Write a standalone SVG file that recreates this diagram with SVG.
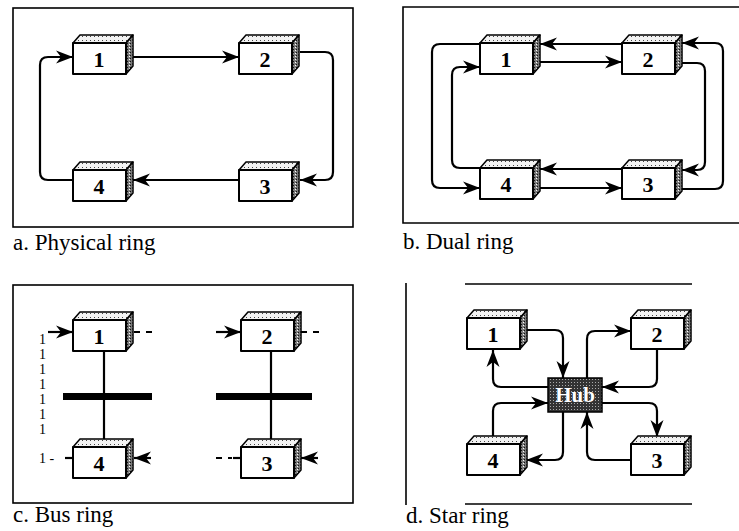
<svg xmlns="http://www.w3.org/2000/svg" xmlns:xlink="http://www.w3.org/1999/xlink" width="739" height="531" viewBox="0 0 739 531">
<style>
.frame{fill:none;stroke:#000;stroke-width:1.6}
.front{fill:#fff;stroke:#000;stroke-width:2;stroke-linejoin:round}
.top{fill:url(#lightDots);stroke:#000;stroke-width:1.5;stroke-linejoin:round}
.side{fill:url(#darkDots);stroke:#000;stroke-width:1.5;stroke-linejoin:round}
.num{font-family:"Liberation Serif",serif;font-weight:bold;font-size:22px;text-anchor:middle;fill:#000}
.cap{font-family:"Liberation Serif",serif;font-size:23px;fill:#000}
.ln{fill:none;stroke:#000;stroke-width:2.2;stroke-linejoin:round}
.ar{marker-end:url(#arrow)}
.dash{fill:none;stroke:#000;stroke-width:2.2;stroke-dasharray:6 6}
.tick{font-family:"Liberation Serif",serif;font-size:14px;fill:#000}
.bar{fill:#000}
.hubtxt{font-family:"Liberation Serif",serif;font-weight:bold;font-size:21px;text-anchor:middle;fill:#fff}
</style>
<defs>
<pattern id="lightDots" width="4" height="4" patternUnits="userSpaceOnUse">
<rect width="4" height="4" fill="#f2f2f2"/>
<rect x="1" y="1" width="1" height="1" fill="#444"/>
</pattern>
<pattern id="darkDots" width="3" height="3" patternUnits="userSpaceOnUse">
<rect width="3" height="3" fill="#7a7a7a"/>
<rect x="0" y="0" width="1" height="1" fill="#111"/>
<rect x="2" y="1" width="1" height="1" fill="#fff"/>
</pattern>
<pattern id="hubDots" width="3" height="3" patternUnits="userSpaceOnUse">
<rect width="3" height="3" fill="#333"/>
<rect x="1" y="1" width="1" height="1" fill="#aaa"/>
</pattern>
<marker id="arrow" markerUnits="userSpaceOnUse" markerWidth="18" markerHeight="14" refX="17" refY="7" orient="auto">
<path d="M0,0.5 L17,7 L0,13.5 L5,7 z" fill="#000"/>
</marker>
<g id="box">
<polygon class="top" points="0,0 53,0 60,-8 7,-8"/>
<polygon class="side" points="53,0 60,-8 60,23 53,31"/>
<rect class="front" x="0" y="0" width="53" height="31"/>
</g>
</defs>

<!-- Panel a: Physical ring -->
<g id="panel-a">
<rect class="frame" x="13" y="8" width="340" height="219"/>
<text class="cap" x="13" y="250">a. Physical ring</text>
</g>
<g id="a-connectors">
<path class="ln ar" d="M133,57 H239"/>
<path class="ln ar" d="M300,52 H325 Q333,52 333,60 V172 Q333,180 325,180 H300"/>
<path class="ln ar" d="M239,180 H133"/>
<path class="ln ar" d="M73,180 H48 Q40,180 40,172 V65 Q40,57 48,57 H73"/>
</g>
<g id="a-node1"><use xlink:href="#box" x="73" y="43"/><text class="num" x="99" y="67">1</text></g>
<g id="a-node2"><use xlink:href="#box" x="239" y="43"/><text class="num" x="265" y="67">2</text></g>
<g id="a-node3"><use xlink:href="#box" x="239" y="170"/><text class="num" x="265" y="194">3</text></g>
<g id="a-node4"><use xlink:href="#box" x="73" y="170"/><text class="num" x="99" y="194">4</text></g>

<!-- Panel b: Dual ring -->
<g id="panel-b">
<path class="frame" d="M739,7 H403 V223 H739"/>
<text class="cap" x="403" y="249">b. Dual ring</text>
</g>
<g id="b-connectors">
<path class="ln ar" d="M622,44 H540"/>
<path class="ln ar" d="M540,62 H622"/>
<path class="ln ar" d="M480,44 H440 Q432,44 432,52 V180 Q432,188 440,188 H480"/>
<path class="ln ar" d="M480,168 H460 Q452,168 452,160 V75 Q452,67 460,67 H480"/>
<path class="ln ar" d="M622,169 H540"/>
<path class="ln ar" d="M540,188 H622"/>
<path class="ln ar" d="M682,63 H697 Q705,63 705,71 V162 Q705,170 697,170 H682"/>
<path class="ln ar" d="M682,189 H715 Q723,189 723,181 V51 Q723,43 715,43 H682"/>
</g>
<g id="b-node1"><use xlink:href="#box" x="480" y="43"/><text class="num" x="506" y="67">1</text></g>
<g id="b-node2"><use xlink:href="#box" x="622" y="43"/><text class="num" x="648" y="67">2</text></g>
<g id="b-node3"><use xlink:href="#box" x="622" y="168"/><text class="num" x="648" y="192">3</text></g>
<g id="b-node4"><use xlink:href="#box" x="480" y="168"/><text class="num" x="506" y="192">4</text></g>

<!-- Panel c: Bus ring -->
<g id="panel-c">
<rect class="frame" x="13" y="285" width="340" height="218"/>
<text class="cap" x="13" y="522">c. Bus ring</text>
</g>
<g id="c-connectors">
<path class="ln" d="M104,352 V447"/>
<rect class="bar" x="63" y="393" width="89" height="7"/>
<path class="ln" d="M271,352 V447"/>
<rect class="bar" x="216" y="393" width="96" height="7"/>
<path class="ln ar" d="M48,332 H73"/>
<path class="dash" d="M134,332 H152"/>
<path class="ln ar" d="M216,332 H241"/>
<path class="dash" d="M301,332 H319"/>
<path class="ln" d="M65,458 H73"/>
<path class="ln ar" d="M151,458 H134"/>
<path class="dash" d="M216,458 H232"/>
<path class="ln" d="M233,458 H241"/>
<path class="ln ar" d="M318,458 H301"/>
<text class="tick" x="39" y="344">1</text>
<text class="tick" x="39" y="359">1</text>
<text class="tick" x="39" y="374">1</text>
<text class="tick" x="39" y="389">1</text>
<text class="tick" x="39" y="404">1</text>
<text class="tick" x="39" y="419">1</text>
<text class="tick" x="39" y="434">1</text>
<text class="tick" x="39" y="463">1 -</text>
</g>
<g id="c-node1"><use xlink:href="#box" x="73" y="320"/><text class="num" x="99" y="344">1</text></g>
<g id="c-node2"><use xlink:href="#box" x="241" y="320"/><text class="num" x="267" y="344">2</text></g>
<g id="c-node3"><use xlink:href="#box" x="241" y="447"/><text class="num" x="267" y="471">3</text></g>
<g id="c-node4"><use xlink:href="#box" x="73" y="447"/><text class="num" x="99" y="471">4</text></g>

<!-- Panel d: Star ring -->
<g id="panel-d">
<path class="frame" d="M406,283 V505"/>
<path class="frame" d="M465,284 H692"/>
<path class="frame" d="M465,504 H692"/>
<text class="cap" x="406" y="523">d. Star ring</text>
</g>
<g id="d-connectors">
<path class="ln ar" d="M526,330 H555 Q563,330 563,338 V378"/>
<path class="ln ar" d="M548,387 H501 Q493,387 493,379 V350"/>
<path class="ln ar" d="M587,378 V339 Q587,331 595,331 H631"/>
<path class="ln ar" d="M657,350 V379 Q657,387 649,387 H602"/>
<path class="ln ar" d="M602,403 H649 Q657,403 657,411 V437"/>
<path class="ln ar" d="M631,460 H595 Q587,460 587,452 V412"/>
<path class="ln ar" d="M563,412 V452 Q563,460 555,460 H526"/>
<path class="ln ar" d="M493,437 V411 Q493,403 501,403 H548"/>
</g>
<g id="d-hub">
<rect x="548" y="378" width="54" height="34" fill="url(#hubDots)" stroke="#000" stroke-width="1.5"/>
<text class="hubtxt" x="575" y="402">Hub</text>
</g>
<g id="d-node1"><use xlink:href="#box" x="467" y="318"/><text class="num" x="493" y="342">1</text></g>
<g id="d-node2"><use xlink:href="#box" x="631" y="318"/><text class="num" x="657" y="342">2</text></g>
<g id="d-node3"><use xlink:href="#box" x="631" y="444"/><text class="num" x="657" y="468">3</text></g>
<g id="d-node4"><use xlink:href="#box" x="467" y="444"/><text class="num" x="493" y="468">4</text></g>
</svg>
